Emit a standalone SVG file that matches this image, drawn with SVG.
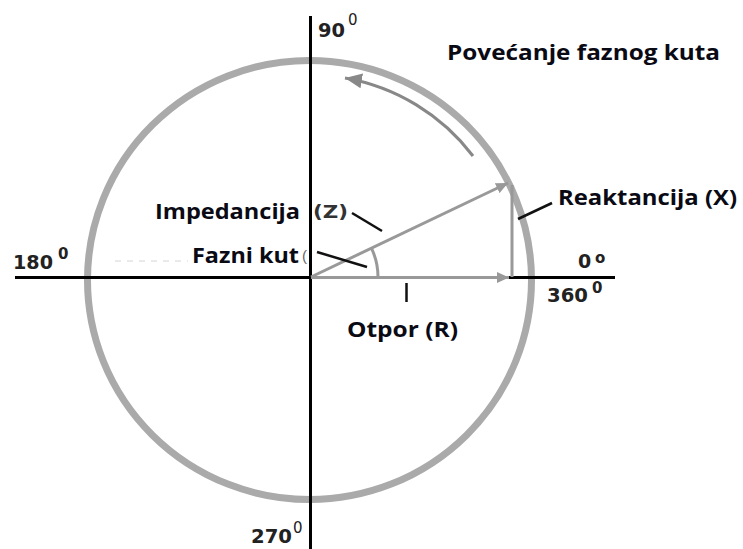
<svg xmlns="http://www.w3.org/2000/svg" width="743" height="549" viewBox="0 0 743 549">
<style>
.lbl{font-family:"Open Sans","Liberation Sans",sans-serif;font-weight:700;font-size:21px;fill:#0a0a14;}
.deg{font-family:"DejaVu Sans","Verdana",sans-serif;font-weight:bold;font-size:19px;fill:#222;}
.sup{font-family:"DejaVu Sans","Verdana",sans-serif;font-size:15px;fill:#222;}
.axis{stroke:#000;stroke-width:3;fill:none;}
.vec{stroke:#999;stroke-width:3;fill:none;}
.lead{stroke:#111;stroke-width:2.5;fill:none;}
</style>
<defs>
<marker id="ah" markerUnits="userSpaceOnUse" markerWidth="13" markerHeight="12" refX="12" refY="6" orient="auto">
<path d="M0,0.5 L12,6 L0,11.5 z" fill="#999"/>
</marker>
<marker id="ah2" markerUnits="userSpaceOnUse" markerWidth="18" markerHeight="16" refX="17" refY="8" orient="auto">
<path d="M0,0.5 L17,8 L0,15.5 z" fill="#888"/>
</marker>
</defs>
<rect width="743" height="549" fill="#fff"/>

<g id="circle">
<ellipse cx="309.5" cy="280" rx="222" ry="219.5" fill="none" stroke="#aaa" stroke-width="7"/>
</g>

<g id="axes">
<line class="axis" x1="310.5" y1="16" x2="310.5" y2="549"/>
<line class="axis" x1="15" y1="277.5" x2="311" y2="277.5"/>
<line class="axis" x1="508" y1="277.5" x2="615" y2="277.5"/>
<line x1="115" y1="261" x2="188" y2="261" stroke="#d4d4d4" stroke-width="1" stroke-dasharray="6 6"/>
</g>

<g id="connectors">
<line class="vec" x1="311" y1="277.5" x2="509" y2="277.5" marker-end="url(#ah)"/>
<line class="vec" x1="311" y1="277" x2="508" y2="183" marker-end="url(#ah)"/>
<line class="vec" x1="512" y1="277" x2="512" y2="185"/>
<path class="vec" stroke-width="2" d="M378 277 A67 67 0 0 0 371.4 248.1"/>
<path d="M473 156 A205 205 0 0 0 345 78" fill="none" stroke="#888" stroke-width="3" marker-end="url(#ah2)"/>
<line class="lead" x1="352" y1="213" x2="382" y2="231"/>
<line class="lead" x1="317" y1="252" x2="367" y2="267"/>
<line class="lead" x1="518" y1="219" x2="552" y2="203"/>
<line class="lead" x1="406.5" y1="283" x2="406.5" y2="302"/>
</g>

<g id="title">
<text class="lbl" x="447" y="60" textLength="273" lengthAdjust="spacingAndGlyphs">Povećanje faznog kuta</text>
</g>
<g id="impedance">
<text class="lbl" x="155" y="219" textLength="145" lengthAdjust="spacingAndGlyphs">Impedancija</text>
<text x="313" y="218" font-family="DejaVu Sans, Verdana, sans-serif" font-weight="bold" font-size="17" fill="#333" textLength="35" lengthAdjust="spacingAndGlyphs">(Z)</text>
</g>
<g id="phase">
<text class="lbl" x="192" y="263" textLength="107" lengthAdjust="spacingAndGlyphs">Fazni kut</text>
<text x="302" y="261" font-family="Liberation Sans, sans-serif" font-size="15" fill="#666">(</text>
</g>
<g id="resistance">
<text class="lbl" x="347" y="337" textLength="111" lengthAdjust="spacingAndGlyphs">Otpor (R)</text>
</g>
<g id="reactance">
<text class="lbl" x="558" y="205" textLength="179" lengthAdjust="spacingAndGlyphs">Reaktancija (X)</text>
</g>

<g id="deg90">
<text class="deg" x="318" y="37" textLength="27" lengthAdjust="spacingAndGlyphs">90</text>
<text class="sup" x="348" y="25" font-size="16">0</text>
</g>
<g id="deg180">
<text class="deg" x="13" y="269" textLength="40" lengthAdjust="spacingAndGlyphs">180</text>
<text class="sup" x="58" y="259" font-weight="bold" font-size="14">0</text>
</g>
<g id="deg0">
<text class="deg" x="578" y="268">0</text>
<text class="sup" x="595" y="263" font-weight="bold" font-size="15">o</text>
</g>
<g id="deg360">
<text class="deg" x="547" y="302" textLength="41" lengthAdjust="spacingAndGlyphs">360</text>
<text class="sup" x="592" y="293" font-weight="bold" font-size="14">0</text>
</g>
<g id="deg270">
<text class="deg" x="251" y="543" textLength="41" lengthAdjust="spacingAndGlyphs">270</text>
<text class="sup" x="293" y="533" font-size="15">0</text>
</g>
</svg>
